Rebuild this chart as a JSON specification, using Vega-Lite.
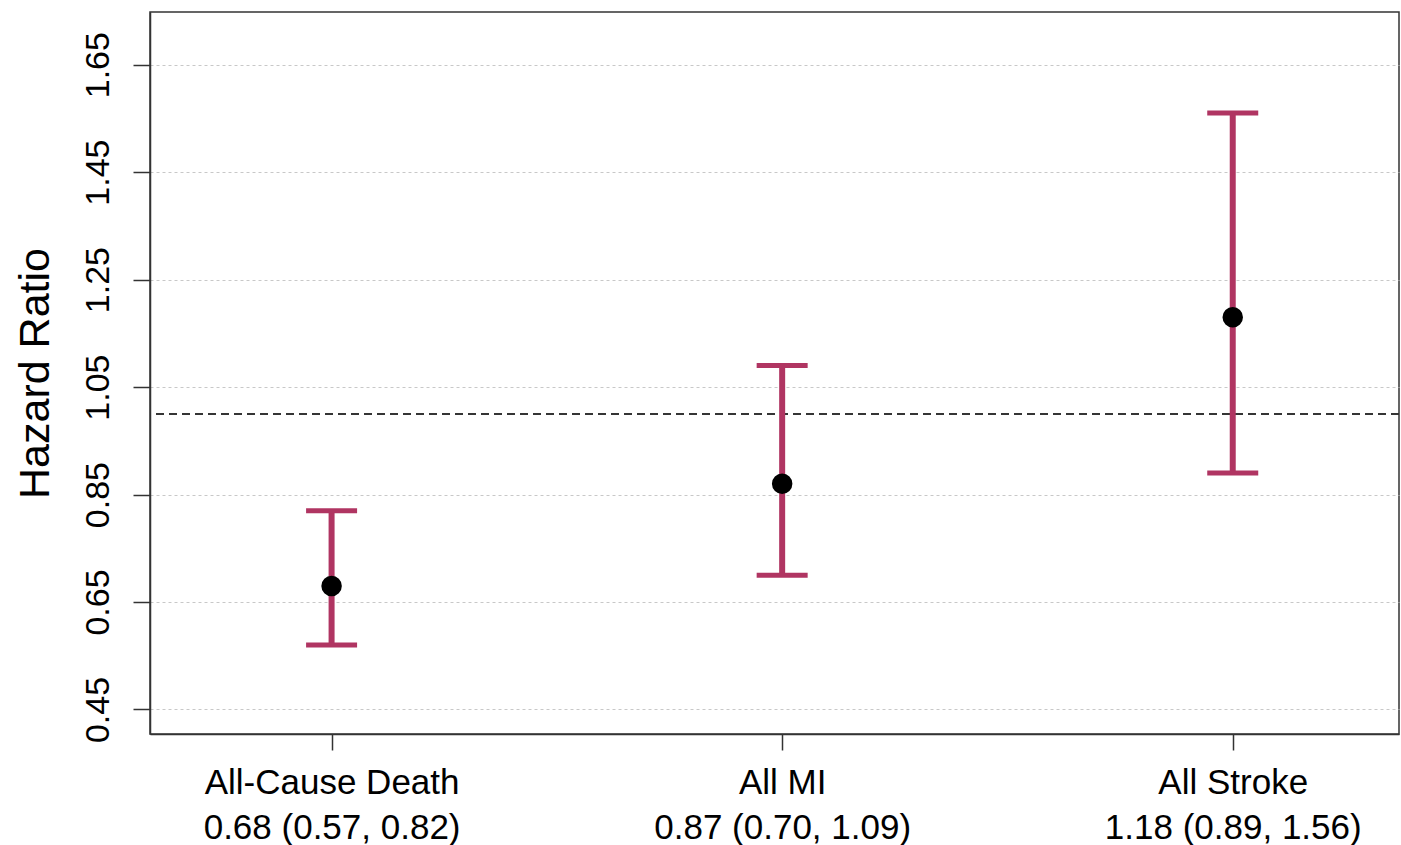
{
  "$schema": "https://vega.github.io/schema/vega-lite/v6.json",
  "autosize": "none",
  "width": 1249,
  "height": 722,
  "padding": {"left": 150, "top": 12, "right": 2, "bottom": 111},
  "background": "white",
  "config": {
    "font": "Liberation Sans",
    "view": {"stroke": "#333333", "strokeWidth": 1.5}
  },
  "data": {
    "values": [
      {"x": 1, "outcome": "All-Cause Death", "ci": "0.68 (0.57, 0.82)", "hr": 0.68, "lo": 0.57, "hi": 0.82},
      {"x": 2, "outcome": "All MI", "ci": "0.87 (0.70, 1.09)", "hr": 0.87, "lo": 0.70, "hi": 1.09},
      {"x": 3, "outcome": "All Stroke", "ci": "1.18 (0.89, 1.56)", "hr": 1.18, "lo": 0.89, "hi": 1.56}
    ]
  },
  "encoding": {
    "x": {
      "field": "x",
      "type": "quantitative",
      "scale": {"domain": [0.597, 3.369], "nice": false, "zero": false},
      "axis": {
        "title": null,
        "values": [1, 2, 3],
        "grid": false,
        "domainColor": "#333333",
        "domainWidth": 1.5,
        "tickColor": "#333333",
        "tickWidth": 1.5,
        "tickSize": 16,
        "labelPadding": 15,
        "labelFontSize": 35,
        "labelColor": "black",
        "labelLineHeight": 45,
        "labelBaseline": "top",
        "labelAlign": "center",
        "labelFlush": false,
        "labelOverlap": false,
        "labelLimit": 0,
        "labelExpr": "datum.value == 1 ? ['All-Cause Death', '0.68 (0.57, 0.82)'] : datum.value == 2 ? ['All MI', '0.87 (0.70, 1.09)'] : ['All Stroke', '1.18 (0.89, 1.56)']"
      }
    }
  },
  "layer": [
    {
      "mark": {"type": "rule", "color": "#333333", "strokeWidth": 1.6, "strokeDash": [8, 5]},
      "encoding": {"y": {"datum": 1, "type": "quantitative"}, "x": null}
    },
    {
      "mark": {"type": "rule", "color": "#b03562", "strokeWidth": 6},
      "encoding": {
        "y": {
          "field": "lo",
          "type": "quantitative",
          "scale": {"domain": [0.4044, 1.748], "nice": false, "zero": false},
          "axis": {
            "title": "Hazard Ratio",
            "values": [0.45, 0.65, 0.85, 1.05, 1.25, 1.45, 1.65],
            "format": ".2f",
            "grid": true,
            "gridColor": "#c8c8c8",
            "gridDash": [3, 3],
            "gridWidth": 1,
            "domainColor": "#333333",
            "domainWidth": 1.5,
            "tickColor": "#333333",
            "tickWidth": 1.5,
            "tickSize": 17,
            "labelAngle": 270,
            "labelAlign": "center",
            "labelBaseline": "alphabetic",
            "labelPadding": 25,
            "labelFontSize": 34,
            "labelColor": "black",
            "labelOverlap": false,
            "labelFlush": false,
            "labelLimit": 0,
            "titleFontSize": 43,
            "titleFontWeight": "normal",
            "titleColor": "black",
            "titleAngle": 270,
            "titleAlign": "center",
            "titleBaseline": "alphabetic",
            "titleX": -102,
            "titleY": 361
          }
        },
        "y2": {"field": "hi"}
      }
    },
    {
      "mark": {"type": "tick", "orient": "horizontal", "color": "#b03562", "size": 51, "thickness": 5, "opacity": 1},
      "encoding": {"y": {"field": "lo", "type": "quantitative"}}
    },
    {
      "mark": {"type": "tick", "orient": "horizontal", "color": "#b03562", "size": 51, "thickness": 5, "opacity": 1},
      "encoding": {"y": {"field": "hi", "type": "quantitative"}}
    },
    {
      "mark": {"type": "point", "filled": true, "color": "black", "size": 420, "opacity": 1},
      "encoding": {"y": {"field": "hr", "type": "quantitative"}}
    }
  ]
}
